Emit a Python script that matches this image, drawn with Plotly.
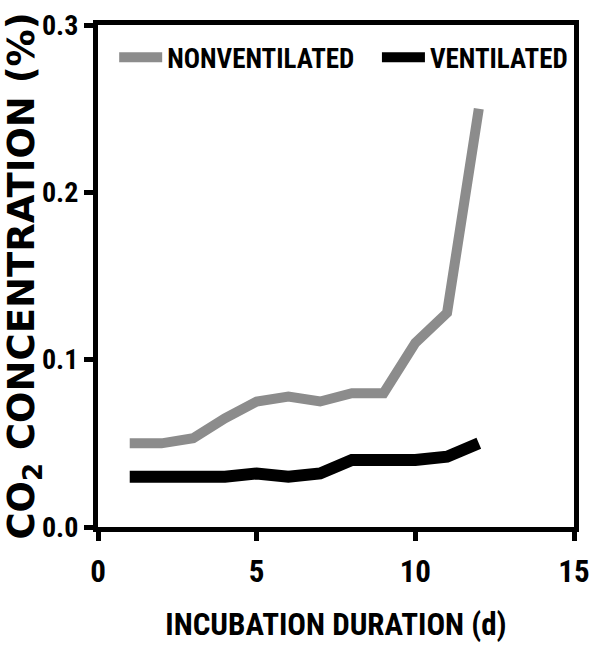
import plotly.graph_objects as go

days = [1, 2, 3, 4, 5, 6, 7, 8, 9, 10, 11, 12]
nonventilated = [0.050, 0.050, 0.053, 0.065, 0.075, 0.078, 0.075, 0.080, 0.080, 0.110, 0.128, 0.250]
ventilated = [0.030, 0.030, 0.030, 0.030, 0.032, 0.030, 0.032, 0.040, 0.040, 0.040, 0.042, 0.050]
x_ticks = [0, 5, 10, 15]
y_ticks = [0.0, 0.1, 0.2, 0.3]
y_tick_labels = ["0.0", "0.1", "0.2", "0.3"]

NARROW = "Roboto Condensed, Open Sans Condensed, DejaVu Sans Condensed, sans-serif"
WIDE = "DejaVu Sans, Verdana, sans-serif"

fig = go.Figure()
fig.add_trace(go.Scatter(x=days, y=nonventilated, mode="lines", name="NONVENTILATED",
                         line=dict(color="#8c8c8c", width=10), legend="legend"))
fig.add_trace(go.Scatter(x=days, y=ventilated, mode="lines", name="VENTILATED",
                         line=dict(color="#000000", width=12), legend="legend2"))

legend_font = dict(family=NARROW, size=27, color="black", weight="bold")
fig.update_layout(
    width=590, height=650,
    margin=dict(l=98, r=16, t=25, b=123, autoexpand=False),
    paper_bgcolor="white", plot_bgcolor="white",
    showlegend=True,
    legend=dict(orientation="h", x=0.034, y=0.935, xanchor="left", yanchor="middle",
                font=legend_font, bgcolor="rgba(0,0,0,0)", itemwidth=43),
    legend2=dict(orientation="h", x=0.586, y=0.935, xanchor="left", yanchor="middle",
                 font=legend_font, bgcolor="rgba(0,0,0,0)", itemwidth=43),
)
fig.update_xaxes(
    range=[0, 15], tickvals=x_ticks, ticktext=[str(v) for v in x_ticks],
    showgrid=False, zeroline=False, automargin=False,
    showline=True, linecolor="black", linewidth=5, mirror=True,
    ticks="outside", ticklen=9, tickwidth=5, tickcolor="black",
    ticklabeloverflow="allow", ticklabelstandoff=4,
    tickfont=dict(family=NARROW, size=31, color="black", weight="bold"),
    title=dict(text="INCUBATION DURATION (d)", standoff=26,
               font=dict(family=NARROW, size=31, color="black", weight="bold")),
)
fig.update_yaxes(
    range=[0, 0.3], tickvals=y_ticks, ticktext=y_tick_labels,
    showgrid=False, zeroline=False, automargin=False,
    showline=True, linecolor="black", linewidth=5, mirror=True,
    ticks="outside", ticklen=9, tickwidth=5, tickcolor="black",
    ticklabeloverflow="allow",
    tickfont=dict(family=NARROW, size=28, color="black", weight="bold"),
    title=dict(text="CO<sub>2</sub> CONCENTRATION (%)", standoff=12,
               font=dict(family=WIDE, size=37, color="black", weight="bold")),
)

fig.write_html("out.html")
